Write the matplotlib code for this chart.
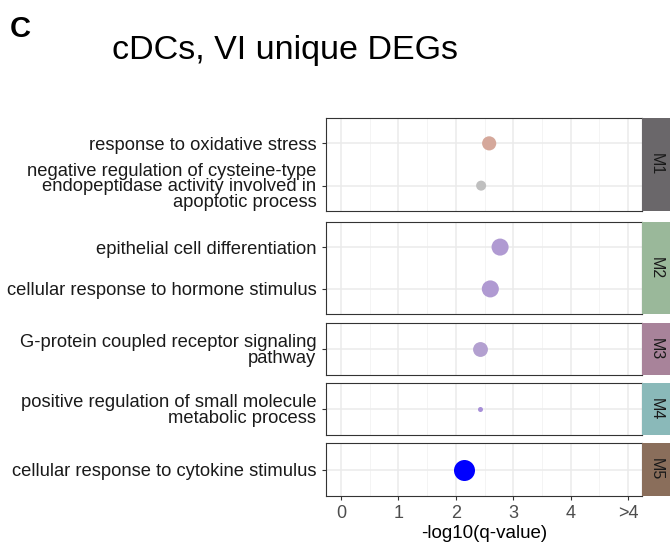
import matplotlib.pyplot as plt

plt.rcParams['font.family'] = ['Liberation Sans', 'DejaVu Sans']

# data
modules = ['M1', 'M2', 'M3', 'M4', 'M5']
terms = [
    ['response to oxidative stress',
     'negative regulation of cysteine-type\nendopeptidase activity involved in\napoptotic process'],
    ['epithelial cell differentiation',
     'cellular response to hormone stimulus'],
    ['G-protein coupled receptor signaling\npathway'],
    ['positive regulation of small molecule\nmetabolic process'],
    ['cellular response to cytokine stimulus'],
]
qvals = [[2.58, 2.44], [2.77, 2.60], [2.42], [2.42], [2.14]]
gene_counts = [[20, 10], [29, 29], [22], [2.5], [44]]
point_colors = [['#D5A89B', '#BFBFBF'], ['#B09AD2', '#B09AD2'], ['#B3A0D0'], ['#A78FD8'], ['#0000FF']]
strip_colors = ['#6A676A', '#9AB89A', '#A8839A', '#8AB9B9', '#8A6E5B']
xtick_labels = ['0', '1', '2', '3', '4', '>4']

W, H = 670, 544
fig = plt.figure(figsize=(W / 100, H / 100), dpi=100)

# panel pixel extents (top, bottom)
panel_px = [(118, 211), (222, 314), (323, 375), (383, 435), (443, 496)]
x0, x1, sx1 = 326, 642, 670

for i, m in enumerate(modules):
    top, bot = panel_px[i]
    ax = fig.add_axes([x0 / W, 1 - bot / H, (x1 - x0) / W, (bot - top) / H])
    n = len(terms[i])
    ys = list(range(n))[::-1]
    ax.set_xticks(range(6))
    ax.set_xticks([x + 0.5 for x in range(5)], minor=True)
    ax.grid(True, which='major', color='#EBEBEB', linewidth=1.1)
    ax.grid(True, which='minor', axis='x', color='#F2F2F2', linewidth=0.6)
    ax.set_axisbelow(True)
    ax.scatter(qvals[i], ys, s=[5.2 * c for c in gene_counts[i]], c=point_colors[i],
               linewidths=0, zorder=3)
    ax.set_yticks(ys)
    ax.set_yticklabels(terms[i], fontsize=13.2, color='#1A1A1A', linespacing=0.9,
                       ha='right', multialignment='right')
    ax.set_xlim(-0.26, 5.24)
    ax.set_ylim(-0.6, n - 0.4)
    ax.tick_params(axis='y', length=3, color='#333333', pad=4)
    ax.tick_params(axis='x', length=3, color='#333333', labelcolor='#4D4D4D', labelsize=13)
    ax.tick_params(axis='x', which='minor', length=0)
    for sp in ax.spines.values():
        sp.set_color('#333333')
        sp.set_linewidth(0.8)
    if i < len(modules) - 1:
        ax.set_xticklabels([])
        ax.tick_params(axis='x', length=0)
    else:
        ax.set_xticklabels(xtick_labels)
        ax.set_xlabel('-log10(q-value)', fontsize=13.5, labelpad=2)

    sax = fig.add_axes([x1 / W, 1 - bot / H, (sx1 - x1) / W, (bot - top) / H])
    sax.set_facecolor(strip_colors[i])
    sax.set_xticks([])
    sax.set_yticks([])
    for sp in sax.spines.values():
        sp.set_visible(False)
    sax.text(0.5, 0.5, m, rotation=-90, ha='center', va='center', fontsize=11.5,
             color='#1A1A1A', transform=sax.transAxes)

fig.text(10 / W, 1 - 29 / H, 'C', fontsize=21, fontweight='bold', va='center', ha='left')
fig.text(112 / W, 1 - 50 / H, 'cDCs, VI unique DEGs', fontsize=24.5, va='center', ha='left')

fig.savefig('out.png', dpi=100)
